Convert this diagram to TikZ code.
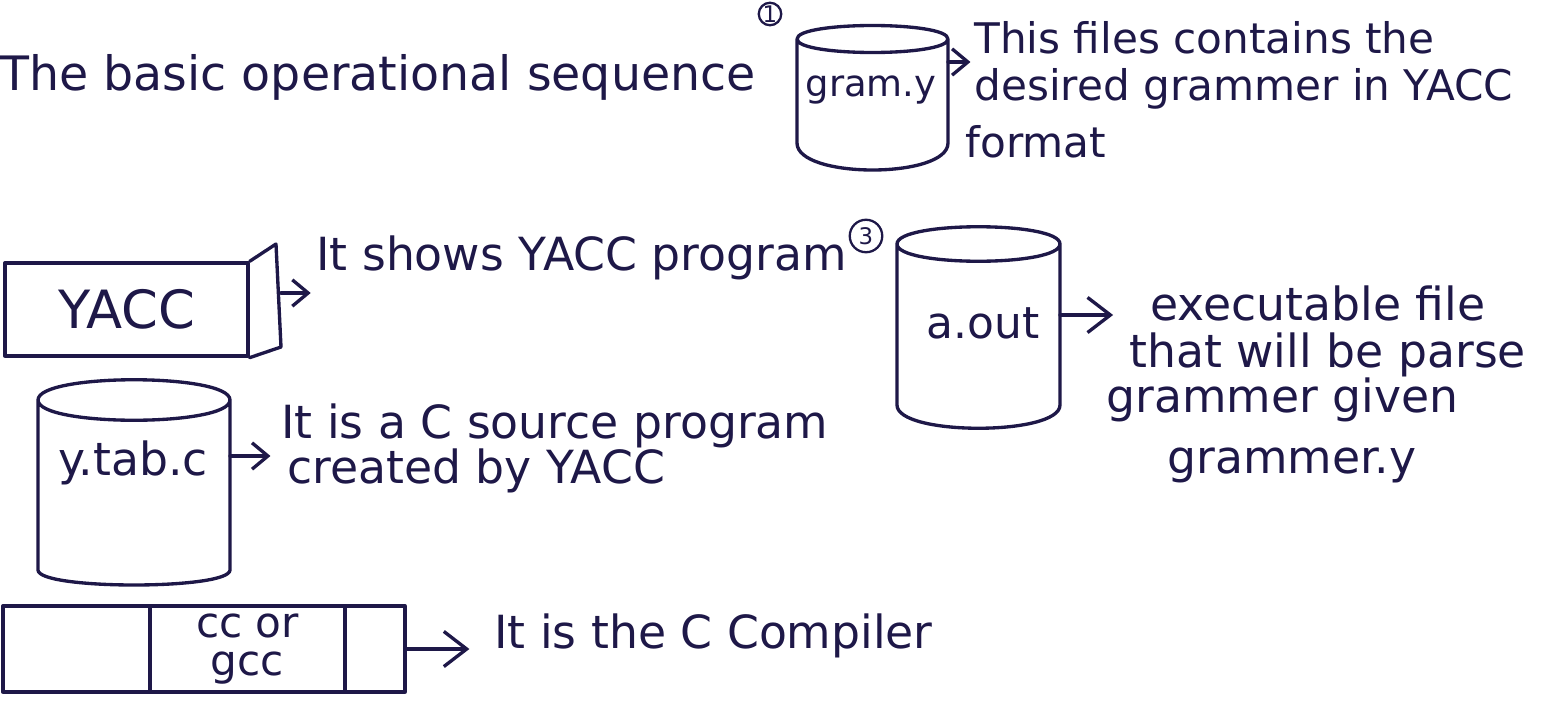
\documentclass[tikz,border=0pt]{standalone}
\usepackage{fontspec}
\setmainfont{DejaVu Sans}
\usetikzlibrary{arrows.meta}
\definecolor{ink}{RGB}{30,24,72}
\newcommand\sizeA{\fontsize{26}{30}\selectfont}
\newcommand\sizeG{\fontsize{24}{28}\selectfont}
\tikzset{
  pen/.style={line width=1.9pt, line join=round, line cap=round, draw=ink},
  arr/.style={pen, -{Straight Barb[length=9pt,width=15pt,line width=1.9pt]}},
  bigarr/.style={pen, -{Straight Barb[length=13pt,width=20pt,line width=1.9pt]}},
  txt/.style={inner sep=0pt, anchor=base west, text=ink, font=\sizeA},
  lbl/.style={inner sep=0pt, text=ink, font=\sizeA},
  cell/.style={pen, inner sep=0pt, text=ink, font=\fontsize{24}{22}\selectfont, align=center},
  num/.style={pen, line width=1.3pt, circle, inner sep=0pt, text=ink, font=\fontsize{13}{13}\selectfont}
}
\begin{document}
\begin{tikzpicture}[x=0.02cm,y=-0.02cm]
\fill[white] (0,0) rectangle (1542,720);
\useasboundingbox (0,0) rectangle (1542,720);

% title
\node[txt, font=\fontsize{27}{32}\selectfont] (title) at (0,90) {The basic operational sequence};
\node[num, minimum size=0.45cm] (n1) at (770,14) {1};

% gram.y cylinder
\draw[pen] (797,39) .. controls (797,21) and (948,21) .. (948,39)
  .. controls (948,57) and (797,57) .. (797,39) -- (797,143)
  .. controls (797,179) and (948,179) .. (948,143) -- (948,39);
\node[lbl, font=\fontsize{21}{24}\selectfont] (gy) at (871,90) {gram.y};
\coordinate (gyR) at (948,62);
\node[txt, font=\sizeG] (g1) at (974,53) {This files contains the};
\node[txt, font=\sizeG] (g2) at (974,100) {desired grammer in YACC};
\node[txt, font=\sizeG] (g3) at (965,157) {format};
\draw[arr, shorten >=2pt] (gyR) -- (gyR -| g1.west);

% YACC box
\node[pen, draw, minimum width=4.86cm, minimum height=1.86cm, inner sep=0pt,
      text=ink, font=\fontsize{30}{34}\selectfont] (yacc) at (126.5,309.5) {YACC};
\draw[pen] (yacc.north east) -- (276,244) -- (281,347) -- (yacc.south east);
\coordinate (yR) at (281,293);
\node[txt] (y1) at (316,270) {It shows YACC program};
\node[num, minimum size=0.65cm] (n3) at (866,236) {3};
\draw[arr, shorten >=3pt] (yR) -- (yR -| y1.west);

% a.out cylinder
\draw[pen] (897,244) .. controls (897,221) and (1060,221) .. (1060,244)
  .. controls (1060,267) and (897,267) .. (897,244) -- (897,405)
  .. controls (897,436) and (1060,436) .. (1060,405) -- (1060,244);
\node[lbl, font=\fontsize{25}{28}\selectfont] (ao) at (983,323) {a.out};
\coordinate (aoR) at (1060,315);
\node[txt] (a1) at (1150,320) {executable file};
\node[txt] (a2) at (1129,367) {that will be parse};
\node[txt] (a3) at (1106,412) {grammer given};
\node[txt] (a4) at (1167,473) {grammer.y};
\draw[bigarr, shorten >=21pt] (aoR) -- (aoR -| a1.west);

% y.tab.c cylinder
\draw[pen] (38,400) .. controls (38,373) and (230,373) .. (230,400)
  .. controls (230,427) and (38,427) .. (38,400) -- (38,570)
  .. controls (38,590) and (230,590) .. (230,570) -- (230,400);
\node[lbl] (yt) at (133,463) {y.tab.c};
\coordinate (ytR) at (230,456);
\node[txt] (t1) at (281,438) {It is a C source program};
\node[txt] (t2) at (287,483) {created by YACC};
\draw[arr, shorten >=6pt] (ytR) -- (ytR -| t1.west);

% cc or gcc box
\node[cell, draw, minimum width=2.94cm, minimum height=1.72cm] (cc1) at (76.5,649) {};
\node[cell, draw, minimum width=3.9cm, minimum height=1.72cm] (cc2) at (247.5,649) {cc or\\gcc};
\node[cell, draw, minimum width=1.2cm, minimum height=1.72cm] (cc3) at (375,649) {};
\node[txt] (c1) at (494,648) {It is the C Compiler};
\draw[bigarr, shorten >=14pt] (cc3.east) -- (cc3.east -| c1.west);
\end{tikzpicture}
\end{document}
